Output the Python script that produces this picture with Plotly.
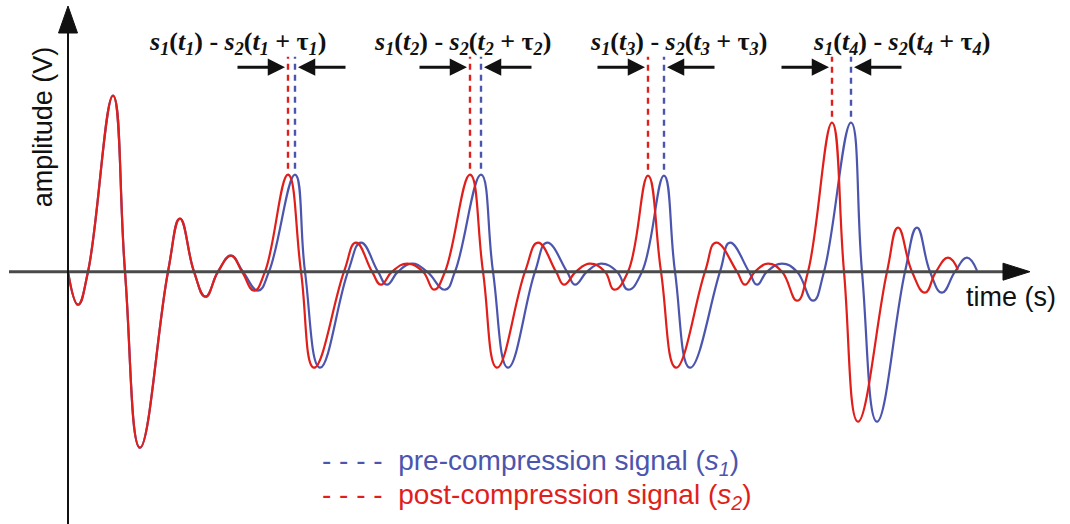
import plotly.graph_objects as go

# ---------------- data (time in arbitrary units, amplitude in V) -------------
# post-compression signal s2 (red): extrema and zero crossings
t_post = [0.00, 0.10, 0.20, 0.45, 0.57, 0.72, 1.00, 1.12, 1.26, 1.375, 1.50, 1.63, 1.74, 1.86, 1.97,
          2.20, 2.33, 2.46, 2.76, 2.88, 3.04, 3.13, 3.24, 3.39, 3.55, 3.66, 3.77,
          4.02, 4.15, 4.29, 4.57, 4.70, 4.88, 4.96, 5.08, 5.22, 5.37, 5.46, 5.60,
          5.80, 5.93, 6.08, 6.37, 6.48, 6.69, 6.77, 6.87, 7.00, 7.14, 7.29, 7.40,
          7.64, 7.76, 7.90, 8.19, 8.30, 8.44, 8.57, 8.68, 8.80, 8.90]
a_post = [0.00, -0.33, 0.00, 1.76, 0.00, -1.76, 0.00, 0.53, 0.00, -0.25, 0.00, 0.16, 0.00, -0.19, 0.00,
          0.97, 0.00, -0.96, 0.00, 0.29, 0.00, -0.13, 0.00, 0.08, 0.00, -0.18, 0.00,
          0.97, 0.00, -0.96, 0.00, 0.29, 0.00, -0.13, 0.00, 0.08, 0.00, -0.18, 0.00,
          0.96, 0.00, -0.96, 0.00, 0.29, 0.00, -0.13, 0.00, 0.08, 0.00, -0.29, 0.00,
          1.49, 0.00, -1.50, 0.00, 0.44, 0.00, -0.21, 0.00, 0.14, 0.02]

# pre-compression signal s1 (blue)
t_pre = [0.00, 0.10, 0.20, 0.45, 0.57, 0.72, 1.00, 1.12, 1.26, 1.375, 1.50, 1.63, 1.75, 1.90, 2.01,
         2.27, 2.37, 2.52, 2.80, 2.93, 3.10, 3.19, 3.30, 3.44, 3.59, 3.77, 3.87,
         4.13, 4.25, 4.40, 4.67, 4.79, 4.99, 5.07, 5.19, 5.33, 5.49, 5.60, 5.74,
         5.96, 6.07, 6.22, 6.52, 6.62, 6.81, 6.89, 6.99, 7.14, 7.29, 7.45, 7.56,
         7.83, 7.94, 8.09, 8.37, 8.49, 8.62, 8.74, 8.87, 8.99, 9.09]
a_pre = [0.00, -0.33, 0.00, 1.76, 0.00, -1.76, 0.00, 0.53, 0.00, -0.25, 0.00, 0.16, 0.00, -0.19, 0.00,
         0.97, 0.00, -0.96, 0.00, 0.29, 0.00, -0.13, 0.00, 0.08, 0.00, -0.18, 0.00,
         0.97, 0.00, -0.96, 0.00, 0.29, 0.00, -0.13, 0.00, 0.08, 0.00, -0.18, 0.00,
         0.96, 0.00, -0.96, 0.00, 0.29, 0.00, -0.13, 0.00, 0.08, 0.00, -0.29, 0.00,
         1.49, 0.00, -1.50, 0.00, 0.44, 0.00, -0.21, 0.00, 0.14, 0.01]

# compared peaks t1..t4
peak_t_post = [2.20, 4.02, 5.80, 7.64]
peak_t_pre = [2.27, 4.13, 5.96, 7.83]
peak_amp = [0.97, 0.97, 0.96, 1.49]
pulse_index = ["1", "2", "3", "4"]

axis_x_title = "time (s)"
axis_y_title = "amplitude (V)"
legend_pre = "pre-compression signal"
legend_post = "post-compression signal"

# ---------------- styling ----------------
RED = "#e01f1b"
BLUE = "#4c55ad"
INK = "#111111"
SANS = "Liberation Sans, Arial, sans-serif"
SERIF = "Liberation Serif, Times New Roman, serif"

X_RANGE = [-0.68, 10.02]
Y_RANGE = [-2.523, 2.717]
DASH_TOP = 2.15
LABEL_Y = 2.29
ARROW_Y = 2.045
label_centres = [1.69, 3.94, 6.10, 8.33]

fig = go.Figure()

fig.add_trace(go.Scatter(x=t_pre, y=a_pre, mode="lines", name=legend_pre,
                         line=dict(color=BLUE, width=2.2, shape="spline", smoothing=1.3),
                         hoverinfo="skip"))
fig.add_trace(go.Scatter(x=t_post, y=a_post, mode="lines", name=legend_post,
                         line=dict(color=RED, width=2.2, shape="spline", smoothing=1.3),
                         hoverinfo="skip"))

shapes = []
# axes drawn as arrows
shapes.append(dict(type="line", xref="x", yref="y", x0=-0.59, x1=9.40, y0=0, y1=0,
                   line=dict(color="#4a4a4a", width=3)))
shapes.append(dict(type="path", xref="x", yref="y",
                   path="M9.35,0.085 L9.62,0 L9.35,-0.085 Z",
                   fillcolor="#111111", line=dict(color="#111111", width=1)))
shapes.append(dict(type="line", xref="x", yref="y", x0=0, x1=0, y0=Y_RANGE[0], y1=2.40,
                   line=dict(color="#111111", width=2)))
shapes.append(dict(type="path", xref="x", yref="y",
                   path="M-0.095,2.387 L0,2.657 L0.095,2.387 Z",
                   fillcolor="#111111", line=dict(color="#111111", width=1)))

annotations = []
for tp, tq, amp, idx, lc in zip(peak_t_post, peak_t_pre, peak_amp, pulse_index, label_centres):
    for tt, col in ((tp, RED), (tq, BLUE)):
        shapes.append(dict(type="line", xref="x", yref="y", x0=tt, x1=tt,
                           y0=amp + 0.06, y1=DASH_TOP,
                           line=dict(color=col, width=2.4, dash="6px,5px")))
    # arrows pointing at the two peak markers
    annotations.append(dict(x=tp - 0.03, y=ARROW_Y, ax=tp - 0.52, ay=ARROW_Y,
                            xref="x", yref="y", axref="x", ayref="y", text="",
                            showarrow=True, arrowhead=2, arrowsize=1.15, arrowwidth=3,
                            arrowcolor=INK, standoff=0))
    annotations.append(dict(x=tq + 0.03, y=ARROW_Y, ax=tq + 0.52, ay=ARROW_Y,
                            xref="x", yref="y", axref="x", ayref="y", text="",
                            showarrow=True, arrowhead=2, arrowsize=1.15, arrowwidth=3,
                            arrowcolor=INK, standoff=0))
    label = (f"<b><i>s</i><sub><i>1</i></sub>(<i>t</i><sub><i>{idx}</i></sub>) - "
             f"<i>s</i><sub><i>2</i></sub>(<i>t</i><sub><i>{idx}</i></sub> + "
             f"τ<sub><i>{idx}</i></sub>)</b>")
    annotations.append(dict(x=lc, y=LABEL_Y, xref="x", yref="y", text=label, showarrow=False,
                            font=dict(family=SERIF, size=26, color=INK)))

annotations.append(dict(x=-0.255, y=1.45, xref="x", yref="y", text=axis_y_title, textangle=-90,
                        showarrow=False, font=dict(family=SANS, size=27, color=INK)))
annotations.append(dict(x=9.43, y=-0.25, xref="x", yref="y", text=axis_x_title,
                        showarrow=False, font=dict(family=SANS, size=27, color=INK)))
annotations.append(dict(x=2.52, y=-1.905, xref="x", yref="y", xanchor="left",
                        text=f"- - - -  {legend_pre} (<i>s</i><sub><i>1</i></sub>)",
                        showarrow=False, font=dict(family=SANS, size=28, color=BLUE)))
annotations.append(dict(x=2.52, y=-2.25, xref="x", yref="y", xanchor="left",
                        text=f"- - - -  {legend_post} (<i>s</i><sub><i>2</i></sub>)",
                        showarrow=False, font=dict(family=SANS, size=28, color=RED)))

fig.update_layout(
    width=1070, height=524,
    margin=dict(l=0, r=0, t=0, b=0),
    paper_bgcolor="white", plot_bgcolor="white",
    showlegend=False,
    xaxis=dict(range=X_RANGE, visible=False, fixedrange=True),
    yaxis=dict(range=Y_RANGE, visible=False, fixedrange=True),
    shapes=shapes,
    annotations=annotations,
)

fig.write_html("out.html")
